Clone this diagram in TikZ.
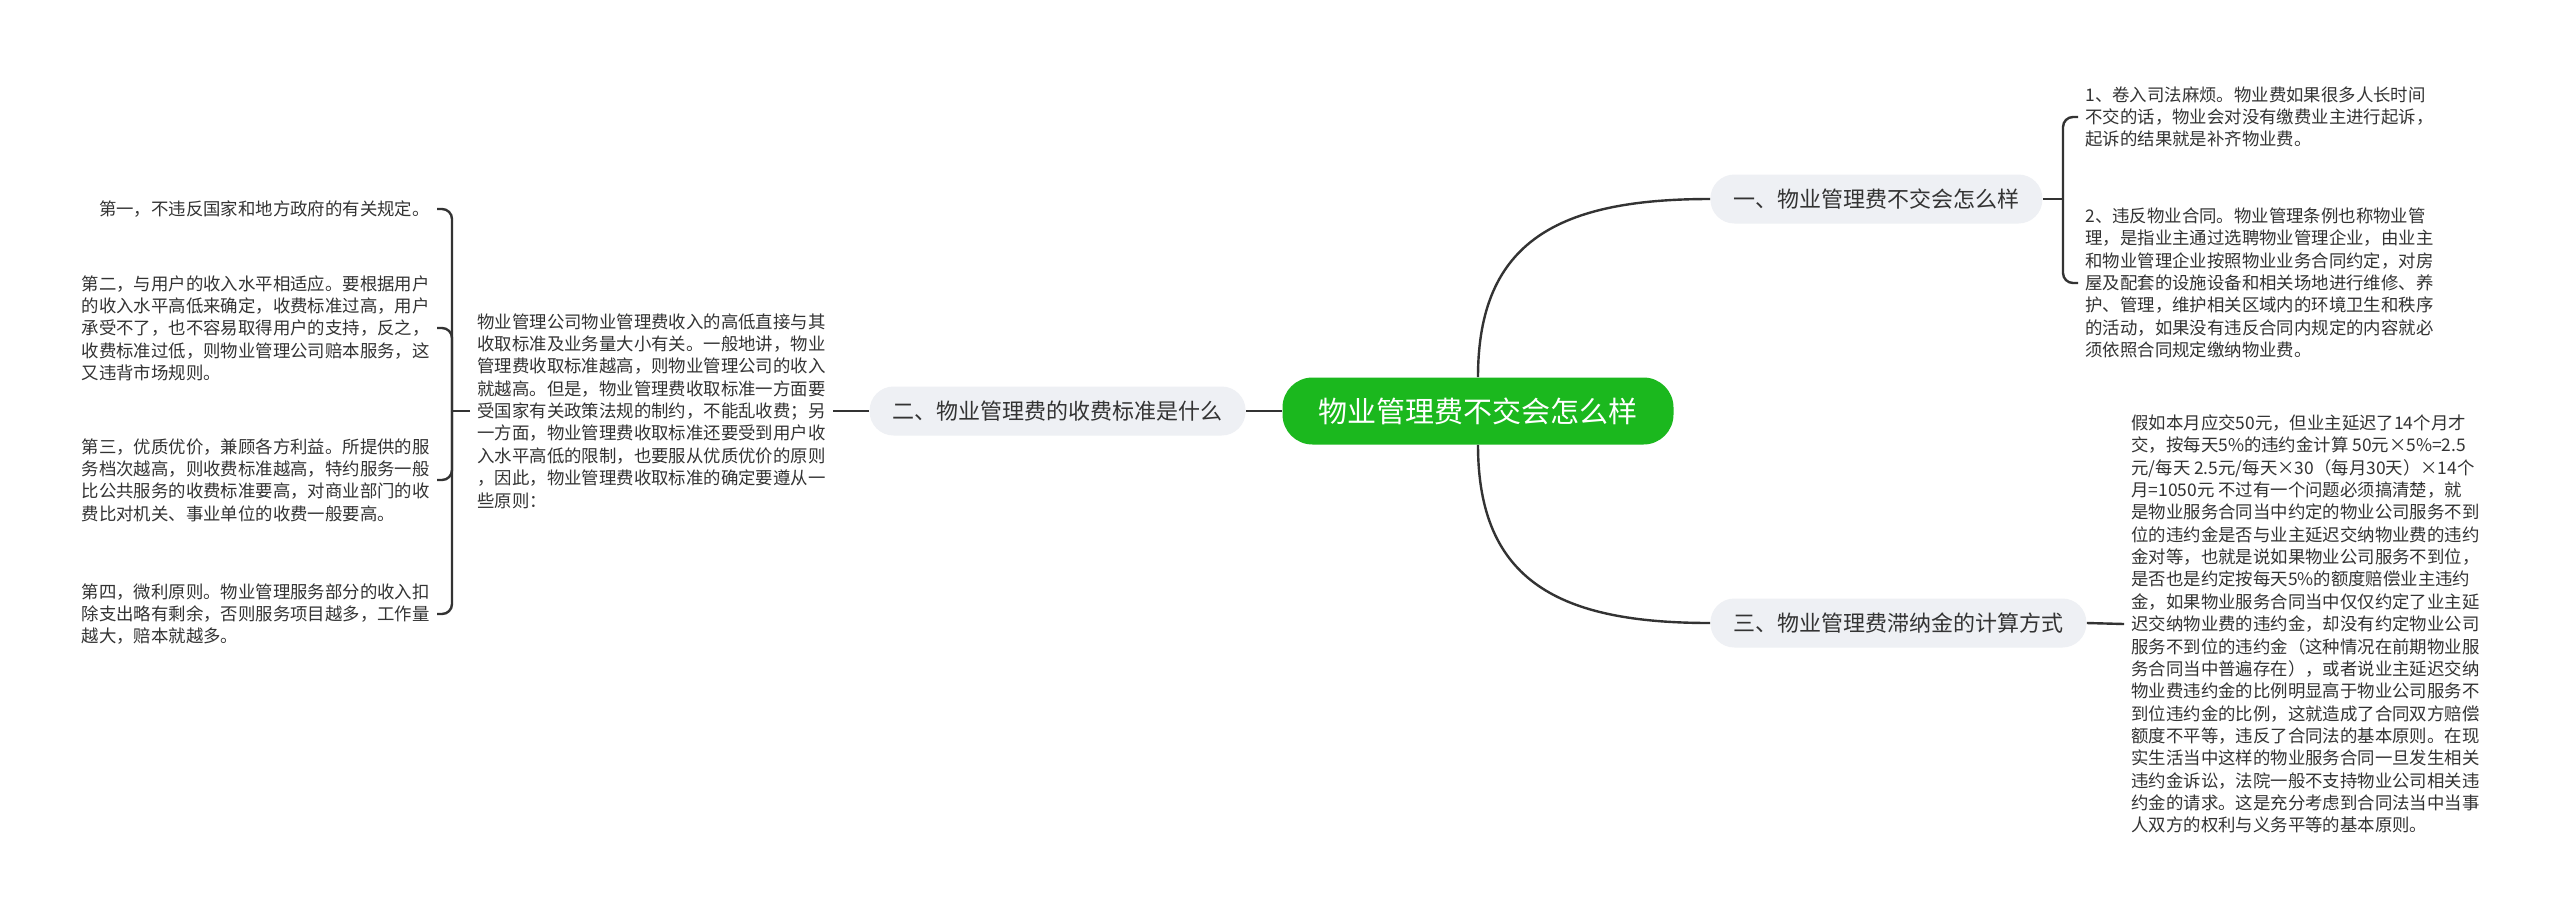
\documentclass[tikz,border=0pt]{standalone}
\usepackage{fontspec}
\setmainfont{Noto Sans CJK SC}
\definecolor{rootgreen}{RGB}{27,184,30}
\definecolor{branchgrey}{RGB}{238,240,244}
\definecolor{linegrey}{RGB}{51,51,51}
\begin{document}
\begin{tikzpicture}[x=0.5pt,y=-0.5pt,
  link/.style={draw=linegrey,line width=1.2pt},
  rootbox/.style={fill=rootgreen,text=white,rounded corners=15pt,inner xsep=18pt,minimum height=33.5pt,font=\fontsize{14.5pt}{17pt}\selectfont},
  branch/.style={fill=branchgrey,text=linegrey,rounded corners=12pt,inner xsep=11.5pt,minimum height=24.5pt,font=\fontsize{11pt}{13pt}\selectfont},
  leaf/.style={text=linegrey,align=left,inner xsep=3.5pt,inner ysep=2pt,font=\fontsize{8.7pt}{11.17pt}\selectfont}]
   \useasboundingbox (0,0) rectangle (2560,917);
   \fill[white] (0,0) rectangle (2560,917);
   %root and branches
   \node[rootbox] (root) at (1478,411) {物业管理费不交会怎么样};
   \node[branch,anchor=west] (b1) at (1710,199) {一、物业管理费不交会怎么样};
   \node[branch,anchor=east] (b2) at (1246,411) {二、物业管理费的收费标准是什么};
   \node[branch,anchor=west] (b3) at (1710,623) {三、物业管理费滞纳金的计算方式};
   %left side
   \node[leaf,anchor=west] (t2) at (470,411) {物业管理公司物业管理费收入的高低直接与其\\
收取标准及业务量大小有关。一般地讲，物业\\
管理费收取标准越高，则物业管理公司的收入\\
就越高。但是，物业管理费收取标准一方面要\\
受国家有关政策法规的制约，不能乱收费；另\\
一方面，物业管理费收取标准还要受到用户收\\
入水平高低的限制，也要服从优质优价的原则\\
，因此，物业管理费收取标准的确定要遵从一\\
些原则：};
   \node[leaf,anchor=east] (l1) at (437,209) {第一，不违反国家和地方政府的有关规定。};
   \node[leaf,anchor=east] (l2) at (437,328) {第二，与用户的收入水平相适应。要根据用户\\
的收入水平高低来确定，收费标准过高，用户\\
承受不了，也不容易取得用户的支持，反之，\\
收费标准过低，则物业管理公司赔本服务，这\\
又违背市场规则。};
   \node[leaf,anchor=east] (l3) at (437,480) {第三，优质优价，兼顾各方利益。所提供的服\\
务档次越高，则收费标准越高，特约服务一般\\
比公共服务的收费标准要高，对商业部门的收\\
费比对机关、事业单位的收费一般要高。};
   \node[leaf,anchor=east] (l4) at (437,614) {第四，微利原则。物业管理服务部分的收入扣\\
除支出略有剩余，否则服务项目越多，工作量\\
越大，赔本就越多。};
   %right side
   \node[leaf,anchor=west] (r1) at (2078,117) {1、卷入司法麻烦。物业费如果很多人长时间\\
不交的话，物业会对没有缴费业主进行起诉，\\
起诉的结果就是补齐物业费。};
   \node[leaf,anchor=west] (r2) at (2078,283) {2、违反物业合同。物业管理条例也称物业管\\
理，是指业主通过选聘物业管理企业，由业主\\
和物业管理企业按照物业业务合同约定，对房\\
屋及配套的设施设备和相关场地进行维修、养\\
护、管理，维护相关区域内的环境卫生和秩序\\
的活动，如果没有违反合同内规定的内容就必\\
须依照合同规定缴纳物业费。};
   \node[leaf,anchor=west] (t3) at (2124,624) {假如本月应交50元，但业主延迟了14个月才\\
交，按每天5\%的违约金计算 50元×5\%=2.5\\
元/每天 2.5元/每天×30（每月30天）×14个\\
月=1050元 不过有一个问题必须搞清楚，就\\
是物业服务合同当中约定的物业公司服务不到\\
位的违约金是否与业主延迟交纳物业费的违约\\
金对等，也就是说如果物业公司服务不到位，\\
是否也是约定按每天5\%的额度赔偿业主违约\\
金，如果物业服务合同当中仅仅约定了业主延\\
迟交纳物业费的违约金，却没有约定物业公司\\
服务不到位的违约金（这种情况在前期物业服\\
务合同当中普遍存在），或者说业主延迟交纳\\
物业费违约金的比例明显高于物业公司服务不\\
到位违约金的比例，这就造成了合同双方赔偿\\
额度不平等，违反了合同法的基本原则。在现\\
实生活当中这样的物业服务合同一旦发生相关\\
违约金诉讼，法院一般不支持物业公司相关违\\
约金的请求。这是充分考虑到合同法当中当事\\
人双方的权利与义务平等的基本原则。};
   %links
   \draw[link] (root.north) .. controls +(0,-137) and +(-150,0) .. (b1.west);
   \draw[link] (root.south) .. controls +(0,137) and +(-150,0) .. (b3.west);
   \draw[link] (root.west) -- (b2.east);
   \draw[link] (b2.west) -- (t2.east);
   \draw[link] (b3.east) -- (t3.west);
   %brackets
   \coordinate (j2) at (452,411);
   \draw[link] (t2.west) -- (j2);
   \foreach \n in {l1,l2,l3,l4}
      \draw[link,rounded corners=5pt] (j2) |- (\n.east);
   \coordinate (j1) at (2063,199);
   \draw[link] (b1.east) -- (j1);
   \foreach \n in {r1,r2}
      \draw[link,rounded corners=5pt] (j1) |- (\n.west);
\end{tikzpicture}
\end{document}
